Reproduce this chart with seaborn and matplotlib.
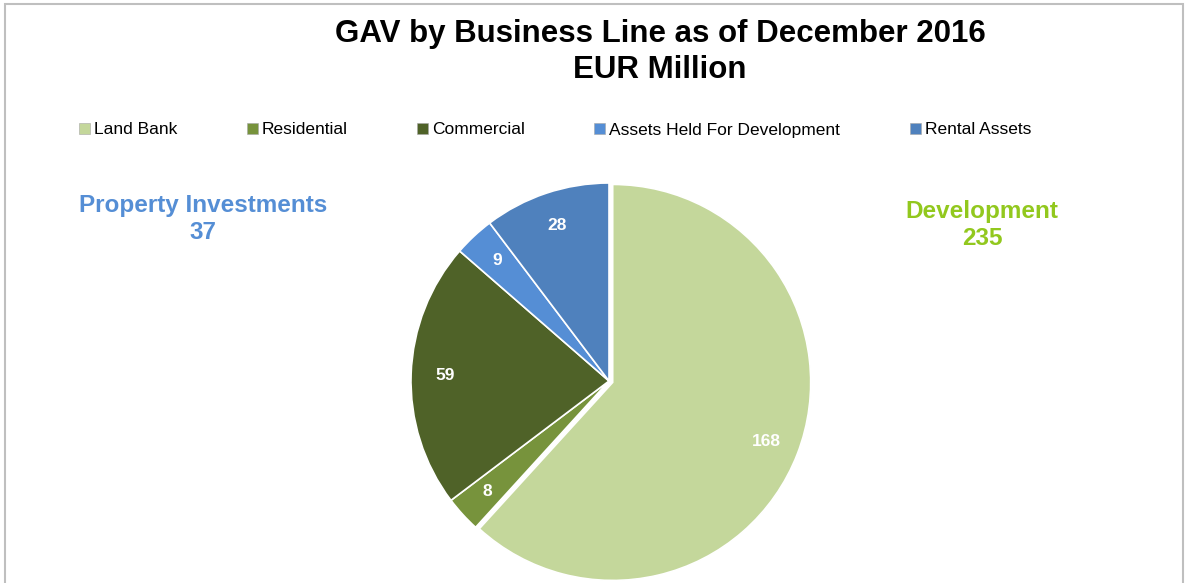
#Pie chart of GAV by business line

#Import modules
import matplotlib
matplotlib.use('Agg')
import matplotlib.pyplot as plt
from matplotlib.patches import Patch, Rectangle
import seaborn as sb

#Data
categories = ['Land Bank', 'Residential', 'Commercial', 'Assets Held For Development', 'Rental Assets']
values = [168, 8, 59, 9, 28]
colors = ['#C4D79B', '#77933C', '#4F6228', '#558ED5', '#4F81BD']
explode = [0.02, 0, 0, 0, 0]
group_names = ['Property Investments', 'Development']
group_totals = [37, 235]
group_colors = ['#558ED5', '#92C81E']

sb.set_style('white')
plt.rcParams['font.family'] = ['Liberation Sans', 'DejaVu Sans']
plt.rcParams['text.color'] = 'black'

W, H = 1187, 583
fig = plt.figure(figsize = (W / 100, H / 100), dpi = 100)

#Pie axes placed around the pie centre
cx, cy, r = 609, 381, 198
half = r * 1.05
ax = fig.add_axes([(cx - half) / W, (H - cy - half) / H, 2 * half / W, 2 * half / H])
wedges, texts, autotexts = ax.pie(values, colors = colors, explode = explode,
                                  startangle = 90, counterclock = False,
                                  autopct = lambda p: '{:.0f}'.format(p * sum(values) / 100),
                                  pctdistance = 0.83,
                                  wedgeprops = dict(edgecolor = 'white', linewidth = 1.2))
for t in autotexts:
    t.set_color('white')
    t.set_fontweight('bold')
    t.set_fontsize(12.5)
ax.set_xlim(-1.05, 1.05)
ax.set_ylim(-1.05, 1.05)
ax.set_aspect('equal')
ax.axis('off')

#Title
fig.text(660 / W, 1 - 34 / H, 'GAV by Business Line as of December 2016', ha = 'center', va = 'center',
         fontsize = 22.5, fontweight = 'bold')
fig.text(660 / W, 1 - 70 / H, 'EUR Million', ha = 'center', va = 'center',
         fontsize = 22.5, fontweight = 'bold')

#Legend
handles = [Patch(facecolor = c, edgecolor = '#A6A6A6', linewidth = 0.4) for c in colors]
fig.legend(handles, categories, loc = 'center', bbox_to_anchor = (555 / W, 1 - 130 / H),
           ncol = 5, frameon = False, fontsize = 12.5, handlelength = 0.63, handleheight = 0.63,
           handletextpad = 0.23, columnspacing = 4.0)

#Group totals
fig.text(203 / W, 1 - 219 / H, '{}\n{}'.format(group_names[0], group_totals[0]), ha = 'center',
         va = 'center', fontsize = 17.5, fontweight = 'bold', color = group_colors[0], linespacing = 1.2)
fig.text(982 / W, 1 - 225 / H, '{}\n{}'.format(group_names[1], group_totals[1]), ha = 'center',
         va = 'center', fontsize = 17.5, fontweight = 'bold', color = group_colors[1], linespacing = 1.2)

#Chart border
fig.patches.append(Rectangle((5 / W, -0.05), 1178 / W, 1.05 - 4 / H, transform = fig.transFigure,
                             fill = False, edgecolor = '#BFBFBF', linewidth = 1.5))

fig.savefig('out.png', dpi = 100)
